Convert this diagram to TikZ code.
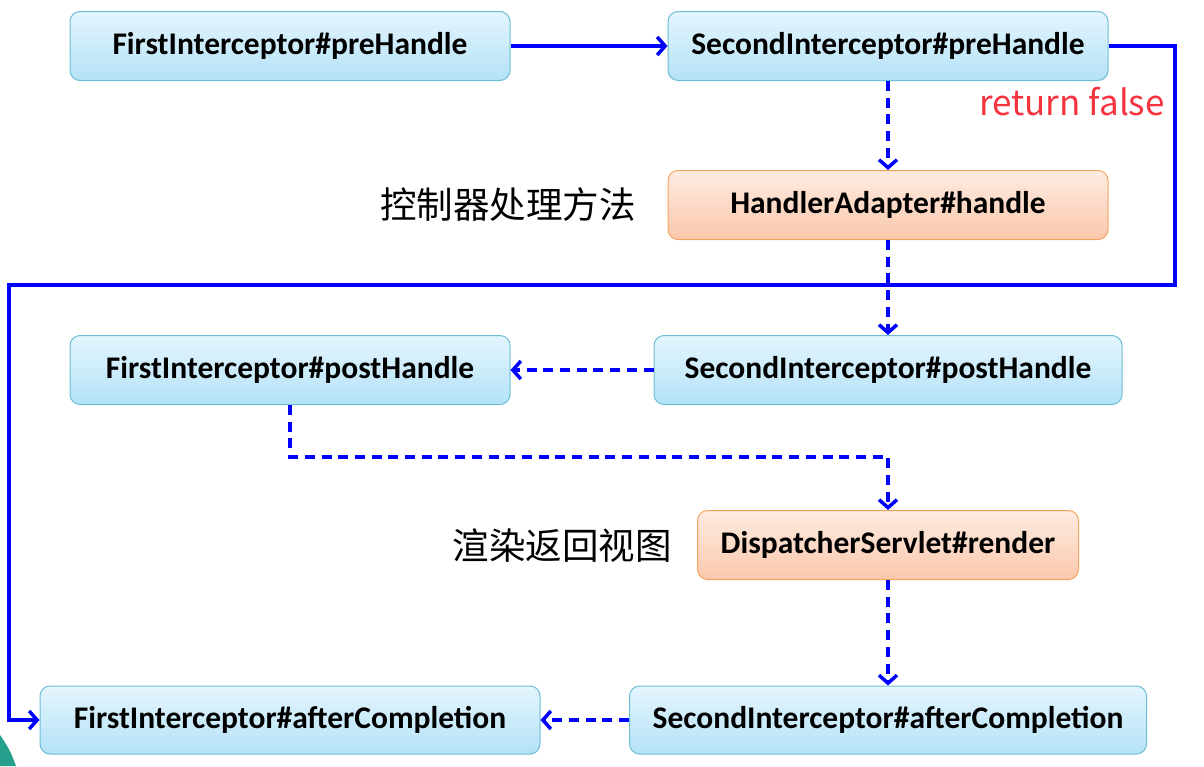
\documentclass[tikz,border=0pt]{standalone}
\usepackage{fontspec}
\setmainfont{Carlito}
\newfontfamily\cjk{Noto Sans CJK SC}
\usetikzlibrary{arrows.meta}
\definecolor{bdblue}{RGB}{108,190,214}
\definecolor{topblue}{RGB}{228,245,253}
\definecolor{botblue}{RGB}{180,226,247}
\definecolor{bdorange}{RGB}{245,164,96}
\definecolor{toporange}{RGB}{253,235,225}
\definecolor{botorange}{RGB}{251,200,172}
\definecolor{retred}{RGB}{245,52,64}
\definecolor{teal}{RGB}{38,160,140}

\begin{document}
\begin{tikzpicture}[x=1pt, y=-1pt,
    bl/.style={draw=bdblue, line width=1pt, rounded corners=10pt,
               top color=topblue, bottom color=botblue, text centered,
               minimum width=440pt, minimum height=69pt,
               font=\fontsize{31.5}{36}\selectfont\bfseries},
    og/.style={bl, draw=bdorange, top color=toporange, bottom color=botorange},
    cn/.style={font=\cjk\fontsize{36.5}{42}\selectfont, inner sep=0pt},
    rf/.style={font=\cjk\fontsize{35}{40}\selectfont, text=retred, inner sep=0pt},
    fw/.style={-{Straight Barb[length=8pt, width=18pt]}, line width=3.5pt, blue},
    dfw/.style={fw, dash pattern=on 10pt off 6.7pt}
  ]
  \useasboundingbox (0,0) rectangle (1204,766);
  \fill[teal] (0,735) to[bend left=8] (16,766) -- (0,766) -- cycle;

  \node[bl] (pre1)  at (290,46)  {FirstInterceptor\#preHandle};
  \node[bl] (pre2)  at (888,46)  {SecondInterceptor\#preHandle};
  \node[og] (hdl)   at (888,205) {HandlerAdapter\#handle};
  \node[bl, minimum width=468pt] (post2) at (888,370) {SecondInterceptor\#postHandle};
  \node[bl] (post1) at (290,370) {FirstInterceptor\#postHandle};
  \node[og, minimum width=381pt] (rnd) at (888,545) {DispatcherServlet\#render};
  \node[bl, minimum width=517pt, minimum height=68pt] (aft2) at (888,720) {SecondInterceptor\#afterCompletion};
  \node[bl, minimum width=500pt, minimum height=68pt] (aft1) at (290,720) {FirstInterceptor\#afterCompletion};

  \node[cn] (lhdl) at (508,205) {控制器处理方法};
  \node[cn] (lrnd) at (562,546) {渲染返回视图};
  \node[rf] (ret)  at (1072,102) {return false};

  \coordinate (c1) at (1175,285);
  \coordinate (c2) at (9,285);
  \coordinate (c3) at (888,457);

  \draw[fw] (pre1) -- (pre2);
  \draw[fw, rounded corners=0pt] (pre2.east) -| (c1) -- (c2) |- (aft1.west);
  \draw[dfw] (pre2) -- (hdl);
  \draw[dfw] (hdl) -- (post2);
  \draw[dfw] (post2) -- (post1);
  \draw[dfw] (post1.south) |- (c3) -- (rnd.north);
  \draw[dfw] (rnd) -- (aft2);
  \draw[dfw] (aft2) -- (aft1);
\end{tikzpicture}
\end{document}
